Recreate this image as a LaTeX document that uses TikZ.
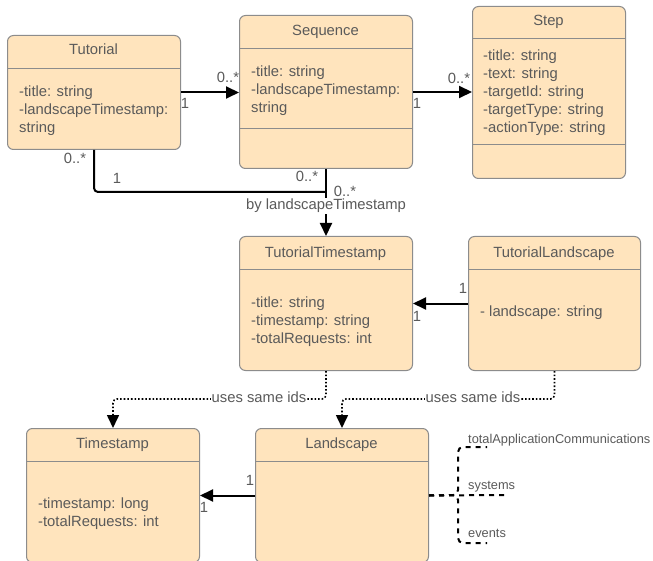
\documentclass[tikz,border=0pt]{standalone}
\usepackage{fontspec}
\setmainfont{Liberation Sans}
\usetikzlibrary{arrows.meta}
\definecolor{fillc}{HTML}{FFE4BD}
\definecolor{borderc}{HTML}{8C8C8C}
\definecolor{txt}{HTML}{5A5A5A}
\tikzset{
 cls/.style={draw=borderc, fill=fillc, line width=1pt, rounded corners=6pt, anchor=north west, inner sep=0pt},
 divl/.style={draw=borderc, line width=1pt},
 ttl/.style={text=txt, font=\fontsize{14.8}{18}\selectfont, inner sep=0pt, anchor=base},
 attr/.style={text=txt, font=\fontsize{14.8}{18}\selectfont, inner sep=0pt, align=left, anchor=north west},
 mult/.style={text=txt, font=\fontsize{14.8}{18}\selectfont, inner sep=0pt},
 assoc/.style={draw=black, line width=2pt, -{Triangle[length=13pt,width=12pt]}},
 plain/.style={draw=black, line width=2pt, rounded corners=4pt},
 dep/.style={draw=black, line width=1.6pt, dotted, rounded corners=4pt, -{Triangle[length=13pt,width=12pt]}},
 dsh/.style={draw=black, line width=2pt, dash pattern=on 5pt off 5pt, rounded corners=5pt},
 lbl/.style={text=txt, font=\fontsize{14.8}{18}\selectfont, fill=white, inner sep=1pt},
 small/.style={text=txt, font=\fontsize{12.8}{15}\selectfont, inner sep=0pt, anchor=west},
}
\begin{document}
\begin{tikzpicture}[x=1pt,y=-1pt]
\useasboundingbox (0,0) rectangle (653,561);
\clip (0,0) rectangle (653,561);
\fill[white] (0,0) rectangle (653,561);
% Tutorial
\node[cls, minimum width=173pt, minimum height=114pt] (tut) at (7,35) {};
\draw[divl] ([yshift=-34pt]tut.north west) -- ([yshift=-34pt]tut.north east);
\node[ttl] (tutT) at (93.5,54.3) {Tutorial};
\node[attr] (tutA) at (19,85.5) {-title: string\\-landscapeTimestamp:\\string};
% Sequence
\node[cls, minimum width=173pt, minimum height=153pt] (seq) at (239,15) {};
\draw[divl] ([yshift=-34pt]seq.north west) -- ([yshift=-34pt]seq.north east);
\draw[divl] ([yshift=-114pt]seq.north west) -- ([yshift=-114pt]seq.north east);
\node[ttl] (seqT) at (325.5,36) {Sequence};
\node[attr] (seqA) at (251,65.5) {-title: string\\-landscapeTimestamp:\\string};
% Step
\node[cls, minimum width=153pt, minimum height=172pt] (step) at (472,6) {};
\draw[divl] ([yshift=-33pt]step.north west) -- ([yshift=-33pt]step.north east);
\draw[divl] ([yshift=-139pt]step.north west) -- ([yshift=-139pt]step.north east);
\node[ttl] (stepT) at (548.5,26) {Step};
\node[attr] (stepA) at (483,49.8) {-title: string\\-text: string\\-targetId: string\\-targetType: string\\-actionType: string};
% TutorialTimestamp
\node[cls, minimum width=173pt, minimum height=134pt] (tts) at (239,236) {};
\draw[divl] ([yshift=-34pt]tts.north west) -- ([yshift=-34pt]tts.north east);
\node[ttl] (ttsT) at (325.5,257.3) {TutorialTimestamp};
\node[attr] (ttsA) at (251,296.5) {-title: string\\-timestamp: string\\-totalRequests: int};
% TutorialLandscape
\node[cls, minimum width=172pt, minimum height=134pt] (tl) at (468,236) {};
\draw[divl] ([yshift=-34pt]tl.north west) -- ([yshift=-34pt]tl.north east);
\node[ttl] (tlT) at (554,257.3) {TutorialLandscape};
\node[attr] (tlA) at (480,305.5) {- landscape: string};
% Timestamp
\node[cls, minimum width=173pt, minimum height=134pt] (ts) at (26,428) {};
\draw[divl] ([yshift=-33pt]ts.north west) -- ([yshift=-33pt]ts.north east);
\node[ttl] (tsT) at (112.5,448) {Timestamp};
\node[attr] (tsA) at (38,497.5) {-timestamp: long\\-totalRequests: int};
% Landscape
\node[cls, minimum width=173pt, minimum height=134pt] (land) at (255,428) {};
\draw[divl] ([yshift=-33pt]land.north west) -- ([yshift=-33pt]land.north east);
\node[ttl] (landT) at (341.5,448.3) {Landscape};
% associations
\draw[assoc] (tut.east) -- (tut.east -| seq.west);
\node[mult] (m1) at (228,77) {0..*};
\node[mult] (m2) at (185,103) {1};
\draw[assoc] (seq.east) -- (seq.east -| step.west);
\node[mult] (m3) at (417,103) {1};
\node[mult] (m4) at (459,78) {0..*};
\coordinate (jn) at (325.5,192);
\draw[plain] (tut.south) |- (jn);
\draw[assoc] (seq.south) -- (tts.north);
\node[lbl] (byl) at (326,206) {by landscapeTimestamp};
\node[mult] (m5) at (75,158) {0..*};
\node[mult] (m6) at (117,178) {1};
\node[mult] (m7) at (307,176) {0..*};
\node[mult] (m8) at (345,191) {0..*};
\draw[assoc] (tl.west) -- (tl.west -| tts.east);
\node[mult] (m9) at (463,288) {1};
\node[mult] (m10) at (417,316) {1};
\draw[dep] (tts.south) -- ++(0,28) -| (ts.north);
\node[lbl] (u1) at (259,397) {uses same ids};
\draw[dep] (tl.south) -- ++(0,28) -| (land.north);
\node[lbl] (u2) at (473,397) {uses same ids};
\draw[assoc] (land.west) -- (land.west -| ts.east);
\node[mult] (m11) at (250,480) {1};
\node[mult] (m12) at (204,507) {1};
% dashed brace
\coordinate (jb) at (458,495);
\coordinate (bt) at (487,447);
\coordinate (bb) at (487,543);
\coordinate (bm) at (507,495);
\draw[dsh] (land.east) -- (jb) |- (bt);
\draw[dsh] (land.east) -- (jb) |- (bb);
\draw[dsh] (land.east) -- (bm);
\node[small] (s1) at (468,440) {totalApplicationCommunications};
\node[small] (s2) at (468,487) {systems};
\node[small] (s3) at (468,533) {events};
\end{tikzpicture}
\end{document}
